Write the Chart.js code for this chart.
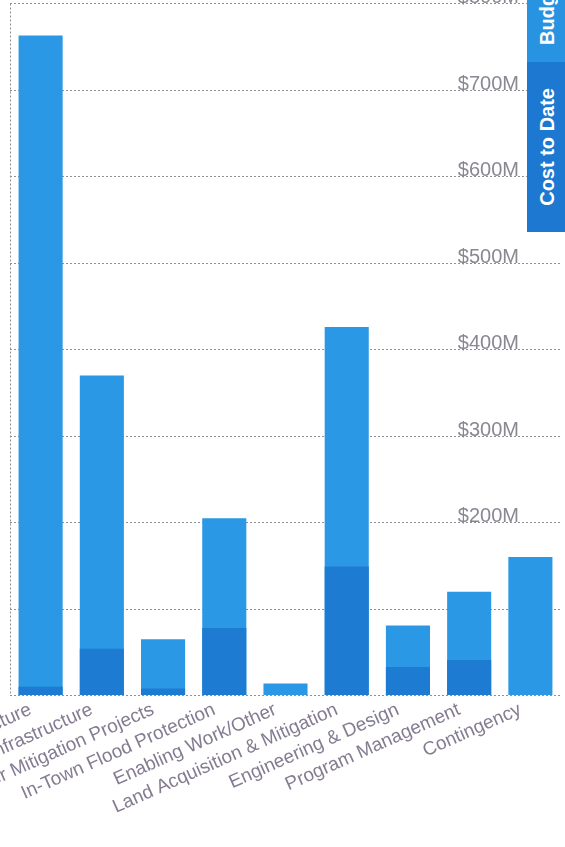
<!DOCTYPE html>
<html>
<head>
<meta charset="utf-8">
<script src="https://cdn.jsdelivr.net/npm/chart.js@4.4.0/dist/chart.umd.min.js"></script>
<style>
    html, body { margin: 0; padding: 0; background: #fff; overflow: hidden; }
    #wrap { position: relative; width: 565px; height: 847px; }
    #chart { position: absolute; left: 0; top: 0; }
    .legend-box {
        position: absolute;
        left: 527px;
        width: 40px;
        display: flex;
        align-items: center;
        justify-content: center;
    }
    .legend-box span {
        writing-mode: vertical-rl;
        transform: rotate(180deg);
        color: #fff;
        font: bold 20px 'Liberation Sans', Arial, sans-serif;
        white-space: nowrap;
    }
</style>
</head>
<body>
<div id="wrap">
    <canvas id="chart" width="565" height="847"></canvas>
    <div class="legend-box" id="legend-budget" style="top:-41px;height:103px;background:#2893e0;"><span>Budget</span></div>
    <div class="legend-box" id="legend-cost" style="top:62px;height:170px;background:#1c78d1;"><span>Cost to Date</span></div>
</div>
<script>
// Categories (left ones are cut off by the frame of the photo)
const categories = [
    'Diversion Channel & Associated Infrastructure',
    'Southern Embankment+Infrastructure',
    'Other Mitigation Projects',
    'In-Town Flood Protection',
    'Enabling Work/Other',
    'Land Acquisition & Mitigation',
    'Engineering & Design',
    'Program Management',
    'Contingency'
];

// values in $M
const budgetValues = [763, 370, 65, 205, 14, 426, 81, 120, 160];
const costToDateValues = [10, 54, 8, 78, 0, 149, 33, 41, 0];

const yTicks = [0, 100, 200, 300, 400, 500, 600, 700, 800];

const FONT = "'Liberation Sans', Arial, sans-serif";
const gridGray = '#8f8f95';

const ctx = document.getElementById('chart').getContext('2d');

new Chart(ctx, {
    type: 'bar',
    data: {
        labels: categories,
        datasets: [
            {
                label: 'Cost to Date',
                data: costToDateValues,
                backgroundColor: '#1e7bd2',
                barPercentage: 0.72,
                categoryPercentage: 1
            },
            {
                label: 'Budget',
                data: budgetValues,
                backgroundColor: '#2a98e5',
                barPercentage: 0.72,
                categoryPercentage: 1
            }
        ]
    },
    options: {
        responsive: false,
        animation: false,
        layout: { padding: { top: 3.5, right: 4, left: 10, bottom: 0 } },
        plugins: {
            legend: { display: false },
            tooltip: { enabled: false }
        },
        scales: {
            x: {
                stacked: true,
                grid: {
                    color: (c) => c.index === 0 ? gridGray : 'rgba(0,0,0,0)',
                    drawTicks: false
                },
                border: { display: false, dash: [2, 2] },
                ticks: {
                    autoSkip: false,
                    minRotation: 24,
                    maxRotation: 24,
                    labelOffset: -10,
                    padding: 3,
                    color: '#857c92',
                    font: { family: FONT, size: 19 }
                },
                afterFit: (scale) => {
                    scale.paddingLeft = 0;
                    scale.paddingRight = 0;
                    scale.height = 151.5;
                }
            },
            y: {
                position: 'right',
                stacked: false,
                min: 0,
                max: 800,
                afterBuildTicks: (scale) => {
                    scale.ticks = yTicks.map(v => ({ value: v }));
                },
                grid: {
                    color: gridGray,
                    drawTicks: false
                },
                border: { display: false, dash: [2, 2] },
                ticks: {
                    mirror: true,
                    padding: -42,
                    labelOffset: -6,
                    color: '#8a8791',
                    font: { family: FONT, size: 20 },
                    callback: (v) => v >= 200 ? '$' + v + 'M' : ''
                },
                afterFit: (scale) => {
                    scale.paddingTop = 0;
                    scale.paddingBottom = 0;
                    scale.width = 0;
                }
            }
        }
    }
});
</script>
</body>
</html>
